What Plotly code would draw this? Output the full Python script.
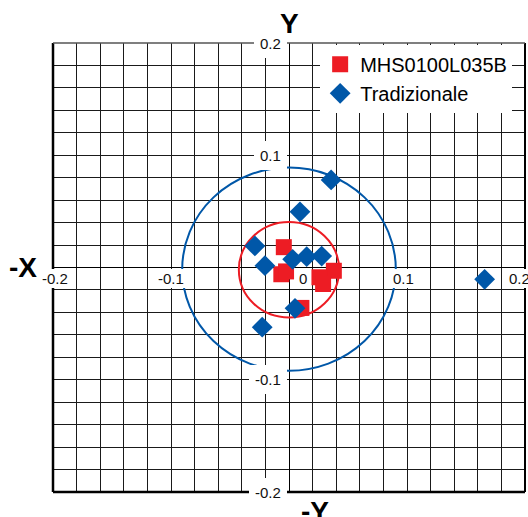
import plotly.graph_objects as go

# ---- data ----
series_names = ["MHS0100L035B", "Tradizionale"]
red_x = [-0.0044, -0.0065, -0.0025, 0.0380, 0.0258, 0.0289, 0.0105]
red_y = [0.0181, -0.0060, -0.0035, -0.0029, -0.0087, -0.0147, -0.0360]
blue_x = [-0.0289, -0.0204, 0.0031, 0.0150, 0.0277, 0.0051, -0.0227, 0.0093, 0.0357, 0.1658]
blue_y = [0.0192, 0.0016, 0.0073, 0.0096, 0.0102, -0.0364, -0.0532, 0.0496, 0.0780, -0.0105]
x_tick_vals = [-0.2, -0.1, 0, 0.1, 0.2]
x_tick_text = ["-0.2", "-0.1", "0", "0.1", "0.2"]
y_tick_vals = [0.2, 0.1, -0.1, -0.2]
y_tick_text = ["0.2", "0.1", "-0.1", "-0.2"]
red_circle = {"cx": 0.0, "cy": -0.002, "r": 0.0425}
blue_circle = {"cx": 0.0, "cy": -0.0015, "r": 0.0905}

RED = "#ED1C24"
BLUE = "#0057A8"
FONT = "Liberation Sans, Arial, sans-serif"

fig = go.Figure()
fig.add_trace(go.Scatter(x=red_x, y=red_y, mode="markers", name=series_names[0],
                         marker=dict(symbol="square", size=16, color=RED, line=dict(width=0))))
fig.add_trace(go.Scatter(x=blue_x, y=blue_y, mode="markers", name=series_names[1],
                         marker=dict(symbol="diamond", size=16, color=BLUE, line=dict(width=0))))

shapes = []
for c, col in ((red_circle, RED), (blue_circle, BLUE)):
    shapes.append(dict(type="circle", xref="x", yref="y",
                       x0=c["cx"] - c["r"], x1=c["cx"] + c["r"],
                       y0=c["cy"] - c["r"], y1=c["cy"] + c["r"],
                       line=dict(color=col, width=2), layer="between"))
# frame
shapes += [
    dict(type="line", xref="paper", yref="paper", x0=0, x1=0, y0=0, y1=1, line=dict(color="black", width=2.5), layer="above"),
    dict(type="line", xref="paper", yref="paper", x0=0, x1=1, y0=0, y1=0, line=dict(color="black", width=2.5), layer="above"),
    dict(type="line", xref="paper", yref="paper", x0=1, x1=1, y0=0, y1=1, line=dict(color="black", width=2), layer="above"),
    dict(type="line", xref="paper", yref="paper", x0=0, x1=1, y0=1, y1=1, line=dict(color="#555555", width=1.5), layer="above"),
]

annotations = []
x_shift = {"-0.2": 2, "-0.1": 0, "0": 14, "0.1": -4, "0.2": -6}
for v, t in zip(x_tick_vals, x_tick_text):
    annotations.append(dict(x=v, y=0, xref="x", yref="y", text=t, showarrow=False,
                            xanchor="center", yanchor="top", yshift=-1, xshift=x_shift[t],
                            bgcolor="white", borderpad=1, borderwidth=0,
                            font=dict(family=FONT, size=15, color="#111")))
for v, t in zip(y_tick_vals, y_tick_text):
    annotations.append(dict(x=0, y=v, xref="x", yref="y", text=t, showarrow=False,
                            xanchor="right", yanchor="middle", xshift=-2,
                            bgcolor="white", borderpad=6, borderwidth=0,
                            font=dict(family=FONT, size=15, color="#111")))
title_font = dict(family=FONT, size=28, color="black")
annotations += [
    dict(x=0.5, y=1.0445, xref="paper", yref="paper", text="<b>Y</b>", showarrow=False,
         xanchor="center", yanchor="middle", font=title_font),
    dict(x=-0.0636, y=0, xref="paper", yref="y", text="<b>-X</b>", showarrow=False,
         xanchor="center", yanchor="middle", font=title_font),
    dict(x=0.555, y=-0.0445, xref="paper", yref="paper", text="<b>-Y</b>", showarrow=False,
         xanchor="center", yanchor="middle", font=title_font),
]

axis_common = dict(range=[-0.2, 0.2], dtick=0.02, tick0=0, showgrid=True,
                   gridcolor="#1a1a1a", gridwidth=1, zeroline=True, zerolinecolor="black",
                   zerolinewidth=1, showticklabels=False, ticks="", showline=False, fixedrange=True)
fig.update_layout(
    width=528, height=517,
    margin=dict(l=53, r=3, t=43, b=25),
    paper_bgcolor="white", plot_bgcolor="white",
    xaxis=axis_common, yaxis=axis_common,
    shapes=shapes, annotations=annotations,
    showlegend=True,
    legend=dict(x=0.566, y=0.996, xanchor="left", yanchor="top", bgcolor="white",
                borderwidth=0, font=dict(family=FONT, size=20, color="black"),
                tracegroupgap=0, itemwidth=30),
)
fig.write_html("out.html", config={"displayModeBar": False},
               post_script="document.body.style.margin='0';document.body.style.overflow='hidden';")
